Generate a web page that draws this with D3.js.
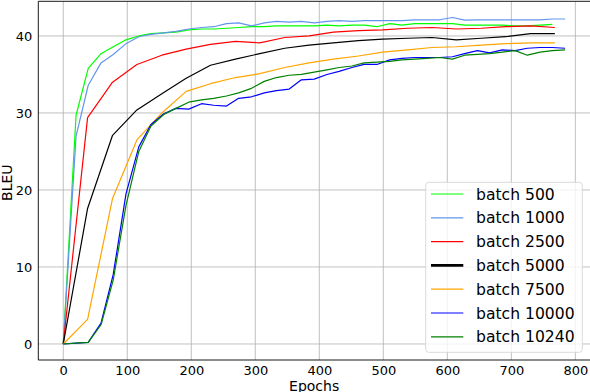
<!DOCTYPE html>
<html>
<head>
<meta charset="utf-8">
<script src="https://cdn.jsdelivr.net/npm/d3@7"></script>
<style>
    body { margin: 0; background: #fff; }
    svg { display: block; font-family: "DejaVu Sans", sans-serif; }
</style>
</head>
<body>
<div id="chart"></div>
<script>
// Epochs at which the runs were evaluated
var fineEpochs = [0, 20, 39, 59, 78, 98, 118, 137, 157, 176, 196, 216, 235, 255, 274, 294, 314, 333, 353, 372,
    392, 412, 431, 451, 470, 490, 510, 529, 549, 568, 588, 608, 627, 647, 666, 686, 706, 725, 745, 764, 784];
var coarseEpochs = [0, 38, 77, 115, 154, 192, 230, 269, 307, 346, 384, 422, 461, 499, 538, 576, 614, 653, 691, 730, 768];

// BLEU per run
var bleu500 = [0, 29.7, 35.8, 37.7, 38.6, 39.5, 40.0, 40.3, 40.4, 40.5, 40.8, 40.9, 40.9, 41.0, 41.1, 41.2, 41.2, 41.3, 41.3, 41.3,
    41.3, 41.4, 41.3, 41.4, 41.4, 41.2, 41.6, 41.4, 41.6, 41.6, 41.6, 41.6, 41.4, 41.4, 41.4, 41.4, 41.3, 41.3, 41.4, 41.5];
var bleu1000 = [0, 27.0, 33.6, 36.5, 37.6, 39.0, 39.9, 40.2, 40.4, 40.6, 40.9, 41.1, 41.2, 41.6, 41.7, 41.3, 41.7, 41.9, 41.8, 41.9,
    41.7, 41.9, 42.0, 41.9, 42.0, 42.0, 42.0, 42.0, 42.1, 42.1, 42.1, 42.4, 42.05, 42.1, 42.1, 42.1, 42.1, 42.1, 42.1, 42.2, 42.2];
var bleu2500 = [0, 29.4, 34.0, 36.3, 37.5, 38.3, 38.9, 39.3, 39.1, 39.8, 40.0, 40.5, 40.7, 40.8, 41.0, 41.1, 40.9, 41.0, 41.2, 41.3, 41.1];
var bleu5000 = [0, 17.6, 27.1, 30.4, 32.5, 34.5, 36.2, 37.0, 37.7, 38.4, 38.8, 39.1, 39.4, 39.6, 39.7, 39.8, 39.5, 39.7, 39.9, 40.3, 40.3];
var bleu7500 = [0, 3.2, 18.9, 26.5, 30.0, 32.8, 33.8, 34.6, 35.1, 35.9, 36.5, 37.0, 37.4, 37.9, 38.2, 38.5, 38.6, 38.8, 39.0, 39.1, 39.1];
var bleu10000 = [0, 0.1, 0.2, 2.7, 9.0, 19.5, 25.6, 28.5, 29.9, 30.6, 30.5, 31.2, 31.0, 30.9, 31.9, 32.1, 32.6, 32.9, 33.1, 34.3,
    34.4, 35.0, 35.4, 35.9, 36.3, 36.3, 36.9, 37.1, 37.2, 37.2, 37.2, 37.3, 37.7, 38.1, 37.8, 38.2, 38.1, 38.4, 38.5, 38.5, 38.4];
var bleu10240 = [0, 0.1, 0.2, 2.5, 8.3, 18.0, 25.0, 28.3, 29.8, 30.6, 31.4, 31.7, 31.9, 32.2, 32.6, 33.2, 34.1, 34.6, 34.9, 35.0,
    35.3, 35.6, 35.9, 36.1, 36.5, 36.6, 36.7, 36.9, 37.0, 37.1, 37.2, 37.0, 37.5, 37.6, 37.7, 37.9, 38.1, 37.5, 37.9, 38.1, 38.2];

// Legend labels, colours and which epochs each run uses
var seriesLabels = ["batch 500", "batch 1000", "batch 2500", "batch 5000", "batch 7500", "batch 10000", "batch 10240"];
var seriesColors = ["#00ff00", "#6495ed", "#ff0000", "#000000", "#ffa500", "#0000ff", "#008000"];
var seriesValues = [bleu500, bleu1000, bleu2500, bleu5000, bleu7500, bleu10000, bleu10240];
var seriesEpochs = [fineEpochs, fineEpochs, coarseEpochs, coarseEpochs, coarseEpochs, fineEpochs, fineEpochs];

var xTicks = [0, 100, 200, 300, 400, 500, 600, 700, 800];
var yTicks = [0, 10, 20, 30, 40];

// Plot area
var plot = { left: 38.3, right: 590.7, top: 1.3, bottom: 360 };

var svg = d3.select("#chart").append("svg")
    .attr("width", 590)
    .attr("height", 392);

// Scales
var x = d3.scaleLinear().domain([-39, 824]).range([plot.left, plot.right]);
var y = d3.scaleLinear().domain([-2.08, 44.5]).range([plot.bottom, plot.top]);

// Grid
svg.append("g").selectAll("line")
    .data(xTicks)
    .enter().append("line")
    .attr("x1", function(d) { return x(d); })
    .attr("x2", function(d) { return x(d); })
    .attr("y1", plot.top)
    .attr("y2", plot.bottom)
    .attr("stroke", "#b0b0b0")
    .attr("stroke-width", 0.8);
svg.append("g").selectAll("line")
    .data(yTicks)
    .enter().append("line")
    .attr("x1", plot.left)
    .attr("x2", plot.right)
    .attr("y1", function(d) { return y(d); })
    .attr("y2", function(d) { return y(d); })
    .attr("stroke", "#b0b0b0")
    .attr("stroke-width", 0.8);

// Axes (no tick marks, labels only)
var xAxis = svg.append("g")
    .attr("transform", "translate(0," + plot.bottom + ")")
    .call(d3.axisBottom(x).tickValues(xTicks).tickSize(0).tickPadding(5.5));
var yAxis = svg.append("g")
    .attr("transform", "translate(" + plot.left + ",0)")
    .call(d3.axisLeft(y).tickValues(yTicks).tickSize(0).tickPadding(6));
[xAxis, yAxis].forEach(function(a) {
    a.select(".domain").remove();
    a.selectAll("text")
        .attr("fill", "#000")
        .style("font-size", "13px")
        .style("font-family", "DejaVu Sans");
});

// Spines
svg.append("line")
    .attr("x1", plot.left).attr("x2", plot.right)
    .attr("y1", plot.bottom).attr("y2", plot.bottom)
    .attr("stroke", "#000").attr("stroke-width", 0.9);
svg.append("line")
    .attr("x1", plot.left).attr("x2", plot.right)
    .attr("y1", plot.top).attr("y2", plot.top)
    .attr("stroke", "#000").attr("stroke-width", 0.9);
svg.append("line")
    .attr("x1", plot.left).attr("x2", plot.left)
    .attr("y1", plot.top).attr("y2", plot.bottom)
    .attr("stroke", "#000").attr("stroke-width", 0.9);

// Lines
var line = d3.line()
    .x(function(d) { return x(d[0]); })
    .y(function(d) { return y(d[1]); });
seriesValues.forEach(function(values, i) {
    var pts = values.map(function(v, j) { return [seriesEpochs[i][j], v]; });
    svg.append("path")
        .attr("d", line(pts))
        .attr("fill", "none")
        .attr("stroke", seriesColors[i])
        .attr("stroke-width", 1.2)
        .attr("stroke-linejoin", "round");
});

// Axis titles
svg.append("text")
    .attr("x", (plot.left + 590) / 2)
    .attr("y", 390.5)
    .attr("text-anchor", "middle")
    .style("font-size", "14px")
    .text("Epochs");
svg.append("text")
    .attr("transform", "translate(11.7," + ((plot.top + plot.bottom) / 2 + 2) + ") rotate(-90)")
    .attr("text-anchor", "middle")
    .style("font-size", "14px")
    .text("BLEU");

// Legend
var legend = svg.append("g");
legend.append("rect")
    .attr("x", 425.7)
    .attr("y", 182.3)
    .attr("width", 156.6)
    .attr("height", 170)
    .attr("rx", 3)
    .attr("fill", "#fff")
    .attr("fill-opacity", 0.8)
    .attr("stroke", "#d6d6d6")
    .attr("stroke-width", 0.9);
var rows = legend.selectAll("g.row")
    .data(seriesLabels)
    .enter().append("g")
    .attr("class", "row")
    .attr("transform", function(d, i) { return "translate(0," + (194 + i * 23.8) + ")"; });
rows.append("line")
    .attr("x1", 431)
    .attr("x2", 463.3)
    .attr("stroke", function(d, i) { return seriesColors[i]; })
    .attr("stroke-width", function(d, i) { return d === "batch 5000" ? 2.6 : 1.2; });
rows.append("text")
    .attr("x", 476)
    .attr("dy", "0.36em")
    .style("font-size", "15.6px")
    .text(function(d) { return d; });
</script>
</body>
</html>
